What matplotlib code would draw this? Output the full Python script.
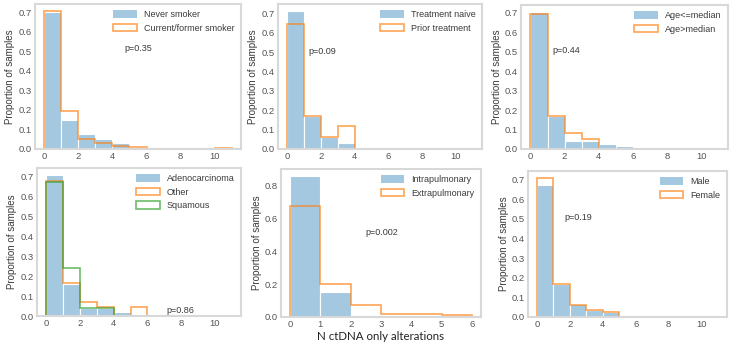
import numpy as np
import matplotlib
matplotlib.use("Agg")
import matplotlib.pyplot as plt
import seaborn as sns
from matplotlib.patches import Patch
from matplotlib.ticker import MultipleLocator

sns.set_style("whitegrid")
plt.rcParams['font.family'] = ['Liberation Sans', 'DejaVu Sans']

# proportion of samples per bin of "N ctDNA only alterations" (bins of width 1)
smoke_never = [0.700, 0.150, 0.076, 0.050, 0.030, 0, 0, 0, 0, 0, 0]
smoke_current = [0.707, 0.192, 0.050, 0.033, 0.015, 0.010, 0, 0, 0, 0, 0.006]

treat_naive = [0.712, 0.170, 0.060, 0.030, 0.012, 0.012, 0, 0, 0, 0, 0]
treat_prior = [0.643, 0.170, 0.060, 0.120, 0, 0, 0, 0, 0, 0, 0]

age_low = [0.705, 0.170, 0.040, 0.040, 0.024, 0.017, 0.008, 0, 0, 0, 0.008]
age_high = [0.695, 0.170, 0.084, 0.050, 0, 0, 0, 0, 0, 0, 0]

hist_adeno = [0.708, 0.162, 0.040, 0.040, 0.018, 0.007, 0, 0, 0, 0, 0]
hist_other = [0.680, 0.165, 0.068, 0.045, 0, 0.045, 0, 0, 0, 0, 0]
hist_squam = [0.675, 0.242, 0.040, 0.042, 0, 0, 0, 0, 0, 0, 0]

site_intra = [0.855, 0.152, 0, 0, 0, 0]
site_extra = [0.672, 0.198, 0.071, 0.018, 0.018, 0.012]

sex_male = [0.674, 0.167, 0.068, 0.038, 0.026, 0.009, 0.009, 0, 0, 0, 0.009]
sex_female = [0.709, 0.167, 0.060, 0.038, 0.026, 0, 0, 0, 0, 0, 0]

p_values = ["p=0.35", "p=0.09", "p=0.44", "p=0.86", "p=0.002", "p=0.19"]
p_pos = [(4.7, 0.515), (1.25, 0.505), (1.3, 0.505), (7.1, 0.003), (2.5, 0.515), (1.65, 0.505)]

BLUE = '#1f77b4'
ORANGE = '#ff7f0e'
GREEN = '#2ca02c'
TEXT = '#3a3a3a'

panels = [
    # (axes rect in px: left, top, right, bottom), filled series, outline series
    ((35, 4, 241, 149), ("Never smoker", smoke_never),
     [("Current/former smoker", smoke_current, ORANGE)]),
    ((278, 4, 482, 149), ("Treatment naive", treat_naive),
     [("Prior treatment", treat_prior, ORANGE)]),
    ((521, 5, 728, 149), ("Age<=median", age_low),
     [("Age>median", age_high, ORANGE)]),
    ((37, 168, 241, 316), ("Adenocarcinoma", hist_adeno),
     [("Other", hist_other, ORANGE), ("Squamous", hist_squam, GREEN)]),
    ((281, 169, 481, 317), ("Intrapulmonary", site_intra),
     [("Extrapulmonary", site_extra, ORANGE)]),
    ((528, 171, 727, 317), ("Male", sex_male),
     [("Female", sex_female, ORANGE)]),
]

W, H = 734, 344
fig = plt.figure(figsize=(W / 100, H / 100), dpi=100)

for i, (rect, filled, outlines) in enumerate(panels):
    l, t, r, b = rect
    ax = fig.add_axes([l / W, (H - b) / H, (r - l) / W, (b - t) / H])
    ax.grid(False)
    for s in ax.spines.values():
        s.set_color('#d8d8d8')
        s.set_linewidth(1.5)

    name, heights = filled
    edges = np.arange(len(heights) + 1)
    fill = matplotlib.colors.to_rgba(BLUE, 0.4)
    ax.bar(edges[:-1], heights, width=1, align='edge', facecolor=fill,
           edgecolor='white', linewidth=0.8, label=name)
    handles = [Patch(facecolor=fill, edgecolor='none', label=name)]
    for oname, oheights, color in outlines:
        ax.stairs(oheights, np.arange(len(oheights) + 1), baseline=0,
                  color=color, alpha=0.7, linewidth=1.2)
        handles.append(Patch(facecolor='none', edgecolor=color, alpha=0.7,
                             linewidth=1.2, label=oname))

    nb = len(heights)
    ax.set_xlim(-0.05 * nb, nb + 0.05 * nb)
    if nb > 6:
        ax.set_xticks([0, 2, 4, 6, 8, 10])
        ax.yaxis.set_major_locator(MultipleLocator(0.1))
    else:
        ax.set_xticks(range(7))
        ax.yaxis.set_major_locator(MultipleLocator(0.2))
    ax.tick_params(labelsize=6.8, colors='#555555', length=0, pad=2.5)
    ax.set_ylabel("Proportion of samples", fontsize=7, color=TEXT, labelpad=2)
    ax.legend(handles=handles, loc='upper right', frameon=False, fontsize=6.5,
              handlelength=2.6, handleheight=0.9, labelcolor=TEXT,
              borderaxespad=0.3)
    ax.text(p_pos[i][0], p_pos[i][1], p_values[i], fontsize=6.5, color=TEXT,
            va='bottom' if i == 3 else 'center')
    if i == 4:
        ax.set_xlabel("N ctDNA only alterations", fontsize=8.3, color='#222222',
                      family=['Lato', 'DejaVu Sans'], labelpad=1)

fig.savefig("out.png", dpi=100)
